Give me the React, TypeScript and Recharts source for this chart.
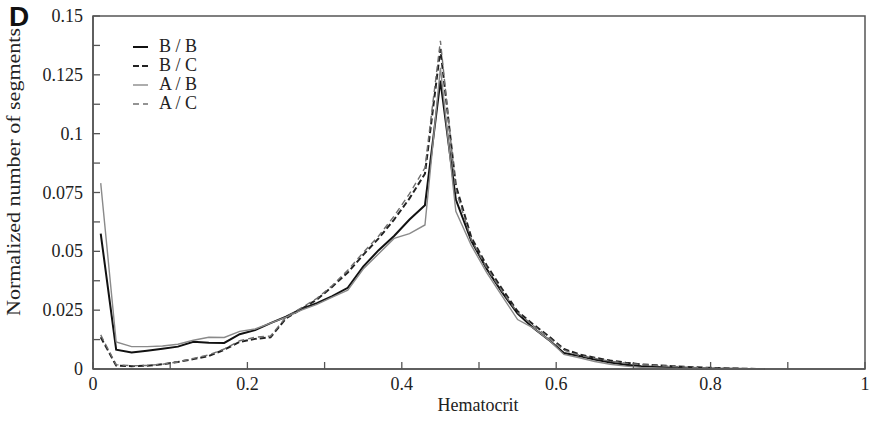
import React from "react";
import { LineChart, Line, XAxis, YAxis, ReferenceArea, Legend } from "recharts";

// bin centres (hematocrit)
const hematocrit = [
  0.01, 0.03, 0.05, 0.07, 0.09, 0.11, 0.13, 0.15, 0.17, 0.19,
  0.21, 0.23, 0.25, 0.27, 0.29, 0.31, 0.33, 0.35, 0.37, 0.39,
  0.41, 0.43, 0.45, 0.47, 0.49, 0.51, 0.53, 0.55, 0.57, 0.59,
  0.61, 0.63, 0.65, 0.67, 0.69, 0.71, 0.73, 0.75, 0.77, 0.79,
  0.81, 0.83, 0.85, 0.87,
];

const bb = [
  0.0575, 0.0082, 0.007, 0.0078, 0.0086, 0.0095, 0.0116, 0.0112, 0.0111, 0.0148,
  0.0165, 0.0195, 0.0222, 0.0255, 0.028, 0.031, 0.0345, 0.0435, 0.0505, 0.0565,
  0.0635, 0.0696, 0.1225, 0.072, 0.0545, 0.0425, 0.0325, 0.0235, 0.0175, 0.0125,
  0.0068, 0.0055, 0.004, 0.0028, 0.0018, 0.0012, 0.0008, 0.0005, 0.0003, 0.0002,
  0.0001, 0.0001, 0.00005, 0,
];

const bc = [
  0.0135, 0.0015, 0.0012, 0.0014, 0.002, 0.003, 0.0042, 0.0055, 0.0082, 0.0115,
  0.0128, 0.0135, 0.0215, 0.0255, 0.0295, 0.035, 0.041, 0.0485, 0.0555, 0.0635,
  0.0725, 0.083, 0.136, 0.078, 0.056, 0.044, 0.034, 0.0245, 0.019, 0.014,
  0.0085, 0.0062, 0.0048, 0.0036, 0.0027, 0.002, 0.0016, 0.0012, 0.0009, 0.0006,
  0.0004, 0.0002, 0.0001, 0,
];

const ab = [
  0.079, 0.0115, 0.0095, 0.0095, 0.0098, 0.0105, 0.0122, 0.0135, 0.0134, 0.016,
  0.017, 0.0195, 0.022, 0.025, 0.0275, 0.0305, 0.0335, 0.0425, 0.049, 0.0555,
  0.0575, 0.0612, 0.128, 0.067, 0.0525, 0.041, 0.031, 0.021, 0.0175, 0.0125,
  0.0062, 0.0048, 0.0032, 0.002, 0.0012, 0.0007, 0.0004, 0.0002, 0.0001, 0.0001,
  0, 0, 0, 0,
];

const ac = [
  0.0145, 0.0018, 0.0014, 0.0015, 0.002, 0.003, 0.0045, 0.006, 0.0085, 0.012,
  0.0135, 0.014, 0.022, 0.026, 0.03, 0.0355, 0.042, 0.0495, 0.0565, 0.065,
  0.0745, 0.0855, 0.1395, 0.076, 0.055, 0.043, 0.033, 0.024, 0.0185, 0.0135,
  0.008, 0.0058, 0.0045, 0.0033, 0.0025, 0.0019, 0.0015, 0.0011, 0.0008, 0.0005,
  0.0003, 0.0002, 0.0001, 0,
];

const xTicks = [0, 0.1, 0.2, 0.3, 0.4, 0.5, 0.6, 0.7, 0.8, 0.9, 1];
const yTicks = [
  0, 0.0125, 0.025, 0.0375, 0.05, 0.0625, 0.075, 0.0875, 0.1, 0.1125, 0.125,
  0.1375, 0.15,
];

const series = [
  { key: "bb", name: "B / B", color: "#111", width: 2, dash: undefined },
  { key: "bc", name: "B / C", color: "#222", width: 2, dash: "6 3" },
  { key: "ab", name: "A / B", color: "#8a8a8a", width: 1.4, dash: undefined },
  { key: "ac", name: "A / C", color: "#707070", width: 1.4, dash: "6 4" },
];

const data = hematocrit.map((x, i) => ({
  x,
  bb: bb[i],
  bc: bc[i],
  ab: ab[i],
  ac: ac[i],
}));

const serif = "'Liberation Serif', 'Times New Roman', serif";
const axisColor = "#555";

const XTick = (props: any) => {
  const { x, y, payload } = props;
  const major = Math.round(payload.value * 10) % 2 === 0;
  return (
    <g>
      <line x1={x} y1={y} x2={x} y2={y - 7} stroke={axisColor} strokeWidth={1.3} />
      {major && (
        <text x={x} y={y + 21} textAnchor="middle" fontFamily={serif} fontSize={18} fill="#222">
          {String(payload.value)}
        </text>
      )}
    </g>
  );
};

const YTick = (props: any) => {
  const { x, y, payload } = props;
  const major = Math.round(payload.value / 0.0125) % 2 === 0;
  return (
    <g>
      <line x1={x} y1={y} x2={x + 7} y2={y} stroke={axisColor} strokeWidth={1.3} />
      {major && (
        <text x={x - 10} y={y + 6} textAnchor="end" fontFamily={serif} fontSize={18} fill="#222">
          {String(payload.value)}
        </text>
      )}
    </g>
  );
};

const renderLegend = () => (
  <div style={{ fontFamily: serif, fontSize: 18, color: "#222" }}>
    {series.map((s) => (
      <div key={s.key} style={{ display: "flex", alignItems: "center", height: 19 }}>
        <svg width={26} height={10}>
          <line x1={0} y1={5} x2={15} y2={5} stroke={s.color} strokeWidth={s.width} strokeDasharray={s.dash} />
        </svg>
        <span style={{ whiteSpace: "pre" }}>{s.name}</span>
      </div>
    ))}
  </div>
);

export default function App() {
  return (
    <div style={{ position: "absolute", left: 0, top: 0, width: 873, height: 421, background: "#fff" }}>
      <div
        style={{
          position: "absolute",
          left: 9,
          top: 1,
          fontFamily: "'Liberation Sans', Arial, sans-serif",
          fontWeight: "bold",
          fontSize: 28,
          color: "#111",
          zIndex: 2,
        }}
      >
        D
      </div>
      <LineChart width={873} height={421} data={data} margin={{ top: 16, right: 8, bottom: 0, left: 0 }}>
        <XAxis
          dataKey="x"
          type="number"
          domain={[0, 1]}
          ticks={xTicks}
          interval={0}
          height={52}
          tickSize={0}
          tickMargin={0}
          tickLine={false}
          tick={<XTick />}
          axisLine={{ stroke: axisColor, strokeWidth: 1.5 }}
          label={() => (
            <text x={478} y={411} textAnchor="middle" fontFamily={serif} fontSize={18} fill="#222">
              Hematocrit
            </text>
          )}
        />
        <YAxis
          type="number"
          domain={[0, 0.15]}
          ticks={yTicks}
          interval={0}
          width={93}
          tickSize={0}
          tickMargin={0}
          tickLine={false}
          tick={<YTick />}
          axisLine={{ stroke: axisColor, strokeWidth: 1.5 }}
          label={() => (
            <text
              transform="translate(20,172) rotate(-90)"
              textAnchor="middle"
              fontFamily={serif}
              fontSize={18}
              fill="#222"
              textLength={288}
              lengthAdjust="spacingAndGlyphs"
            >
              Normalized number of segments
            </text>
          )}
        />
        <ReferenceArea x1={0} x2={1} y1={0} y2={0.15} fill="none" stroke={axisColor} strokeWidth={1.5} />
        <Legend
          layout="vertical"
          align="center"
          verticalAlign="middle"
          content={renderLegend}
          wrapperStyle={{ left: 133, top: 37, width: "auto", height: "auto" }}
        />
        {series.map((s) => (
          <Line
            key={s.key}
            dataKey={s.key}
            name={s.name}
            type="linear"
            stroke={s.color}
            strokeWidth={s.width}
            strokeDasharray={s.dash}
            dot={false}
            activeDot={false}
            isAnimationActive={false}
          />
        ))}
      </LineChart>
    </div>
  );
}
